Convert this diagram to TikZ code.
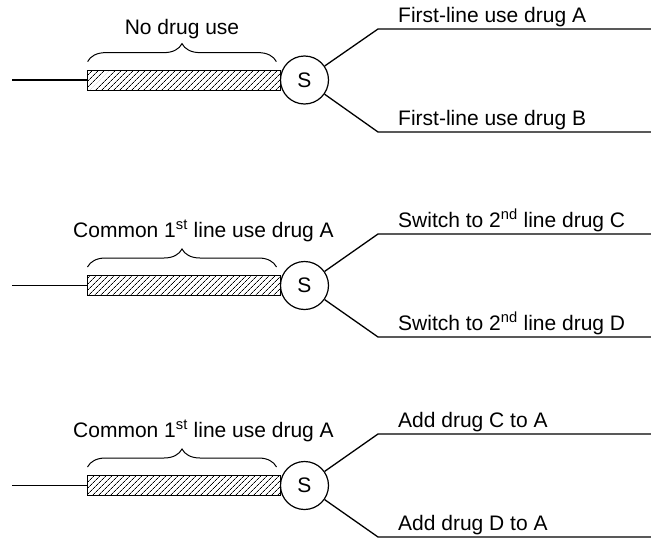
\documentclass[tikz,border=0pt]{standalone}
\usepackage{fontspec}
\setmainfont{Liberation Sans}
\usetikzlibrary{calc,positioning,patterns.meta,decorations.pathreplacing}

\tikzset{
	hatchbar/.style={draw, line width=1pt, minimum width=193pt, minimum height=20pt, inner sep=0pt,
		pattern={Lines[angle=45,distance=4pt,line width=0.75pt]}},
	switch/.style={draw, circle, line width=1.2pt, minimum size=48pt, inner sep=0pt},
	wire/.style={line width=1.3pt},
	overbrace/.style={decorate, decoration={brace, amplitude=18pt}, line width=1pt},
	lbl/.style={inner sep=0pt},
}

\begin{document}
\begin{tikzpicture}[x=1pt,y=-1pt,font=\fontsize{21}{25}\selectfont]
	\useasboundingbox (0,0) rectangle (651,541);
	% row 1
	\coordinate (in1) at (12,80);
	\node[hatchbar] (bar1) at (183.5,80) {};
	\node[switch] (s1) at (304.5,80) {S};
	\coordinate (kup1) at (378,29);
	\coordinate (eup1) at (651,29);
	\coordinate (klo1) at (378,132);
	\coordinate (elo1) at (651,132);
	\draw[wire] (in1) -- (bar1.west);
	\draw[wire] (s1) -- (kup1) -- (eup1);
	\draw[wire] (s1) -- (klo1) -- (elo1);
	\draw[overbrace] ([xshift=1pt,yshift=8pt]bar1.north west) -- ([xshift=-4pt,yshift=8pt]bar1.north east);
	\node[lbl,anchor=base] (left1) at (182,34) {No drug use};
	\node[lbl,anchor=base west] (tup1) at ($(kup1)+(20,-7)$) {First-line use drug A};
	\node[lbl,anchor=base west] (tlo1) at ($(klo1)+(20,-7)$) {First-line use drug B};
	% row 2
	\coordinate (in2) at (12,285.5);
	\node[hatchbar] (bar2) at (183.5,285.5) {};
	\node[switch] (s2) at (304.5,285.5) {S};
	\coordinate (kup2) at (378,234);
	\coordinate (eup2) at (651,234);
	\coordinate (klo2) at (378,337);
	\coordinate (elo2) at (651,337);
	\draw[wire] (in2) -- (bar2.west);
	\draw[wire] (s2) -- (kup2) -- (eup2);
	\draw[wire] (s2) -- (klo2) -- (elo2);
	\draw[overbrace] ([xshift=1pt,yshift=8pt]bar2.north west) -- ([xshift=-4pt,yshift=8pt]bar2.north east);
	\node[lbl,anchor=base] (left2) at (203.5,237) {Common 1\textsuperscript{st} line use drug A};
	\node[lbl,anchor=base west] (tup2) at ($(kup2)+(20,-7)$) {Switch to 2\textsuperscript{nd} line drug C};
	\node[lbl,anchor=base west] (tlo2) at ($(klo2)+(20,-7)$) {Switch to 2\textsuperscript{nd} line drug D};
	% row 3
	\coordinate (in3) at (12,485.5);
	\node[hatchbar] (bar3) at (183.5,485.5) {};
	\node[switch] (s3) at (304.5,485.5) {S};
	\coordinate (kup3) at (378,434);
	\coordinate (eup3) at (651,434);
	\coordinate (klo3) at (378,537);
	\coordinate (elo3) at (651,537);
	\draw[wire] (in3) -- (bar3.west);
	\draw[wire] (s3) -- (kup3) -- (eup3);
	\draw[wire] (s3) -- (klo3) -- (elo3);
	\draw[overbrace] ([xshift=1pt,yshift=8pt]bar3.north west) -- ([xshift=-4pt,yshift=8pt]bar3.north east);
	\node[lbl,anchor=base] (left3) at (203.5,437.5) {Common 1\textsuperscript{st} line use drug A};
	\node[lbl,anchor=base west] (tup3) at ($(kup3)+(20,-7)$) {Add drug C to A};
	\node[lbl,anchor=base west] (tlo3) at ($(klo3)+(20,-7)$) {Add drug D to A};
\end{tikzpicture}
\end{document}
